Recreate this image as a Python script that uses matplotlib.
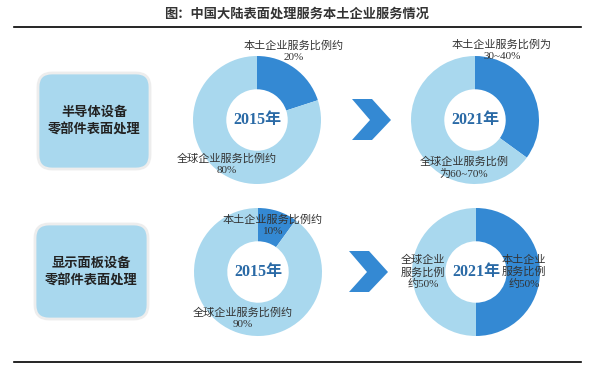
import matplotlib
matplotlib.use("Agg")
import matplotlib.pyplot as plt
from matplotlib.patches import FancyBboxPatch, Polygon

plt.rcParams['font.family'] = ['Liberation Serif', 'Noto Sans CJK SC', 'DejaVu Sans']

# data
title = "图：中国大陆表面处理服务本土企业服务情况"
rows = ["半导体设备\n零部件表面处理", "显示面板设备\n零部件表面处理"]
years = ["2015年", "2021年", "2015年", "2021年"]
local_share = [20, 35, 10, 50]
global_share = [80, 65, 90, 50]
local_labels = ["本土企业服务比例约\n20%", "本土企业服务比例为\n30~40%",
                "本土企业服务比例约\n10%", "本土企业\n服务比例\n约50%"]
global_labels = ["全球企业服务比例约\n80%", "全球企业服务比例\n为60~70%",
                 "全球企业服务比例约\n90%", "全球企业\n服务比例\n约50%"]

W, H = 595, 369
dark = "#3489d3"
light = "#a9d8ee"
text_c = "#333333"

fig = plt.figure(figsize=(W / 100, H / 100), dpi=100)
ax = fig.add_axes([0, 0, 1, 1])


def Y(y):
    return H - y


# donut centres / radius in pixels
centers = [(257, 120), (475, 120), (258, 272), (476, 272)]
radius = 64
for (cx, cy), loc, glo in zip(centers, local_share, global_share):
    ax.pie([loc, glo], colors=[dark, light], startangle=90, counterclock=False,
           center=(cx, Y(cy)), radius=radius,
           wedgeprops=dict(width=radius * 0.52, edgecolor="none"))

for (cx, cy), yr in zip(centers, years):
    ax.text(cx, Y(cy), yr, ha="center", va="center", fontsize=11.5,
            fontweight="bold", color="#2a6aa6")

# label positions (pixels)
local_pos = [(294, 51), (502, 50), (273, 225), (524, 272)]
global_pos = [(227, 164), (464, 168), (243, 318), (423, 272)]
for (x, y), s in zip(local_pos, local_labels):
    ax.text(x, Y(y), s, ha="center", va="center", fontsize=8, color=text_c,
            linespacing=1.25)
for (x, y), s in zip(global_pos, global_labels):
    ax.text(x, Y(y), s, ha="center", va="center", fontsize=8, color=text_c,
            linespacing=1.25)

# left boxes
boxes = [(38, 73, 112, 96), (35, 224, 113, 95)]
for (x, y, w, h), s in zip(boxes, rows):
    ax.add_patch(FancyBboxPatch((x, Y(y + h)), w, h,
                                boxstyle="round,pad=0,rounding_size=14",
                                facecolor=light, edgecolor="#ededed", linewidth=2))
    ax.text(x + w / 2, Y(y + h / 2), s, ha="center", va="center", fontsize=9.5,
            fontweight="bold", color="#222222", linespacing=1.35,
            family=['Noto Sans CJK SC'])

# chevrons
for ox, oy in [(352, 120), (349, 272)]:
    pts = [(ox, oy - 21), (ox + 20, oy - 21), (ox + 39, oy), (ox + 20, oy + 20),
           (ox, oy + 20), (ox + 18, oy)]
    ax.add_patch(Polygon([(px, Y(py)) for px, py in pts], closed=True,
                         facecolor=dark, edgecolor="none"))

# title and rules
ax.text(297, Y(14), title, ha="center", va="center", fontsize=9.5,
        fontweight="bold", color=text_c, family=['Noto Sans CJK SC'])
ax.plot([14, 581], [Y(27), Y(27)], color="black", lw=1.2)
ax.plot([14, 581], [Y(362), Y(362)], color="black", lw=1.2)

ax.set_xlim(0, W)
ax.set_ylim(0, H)
ax.set_aspect("auto")
ax.axis("off")

fig.savefig("out.png", dpi=100)
